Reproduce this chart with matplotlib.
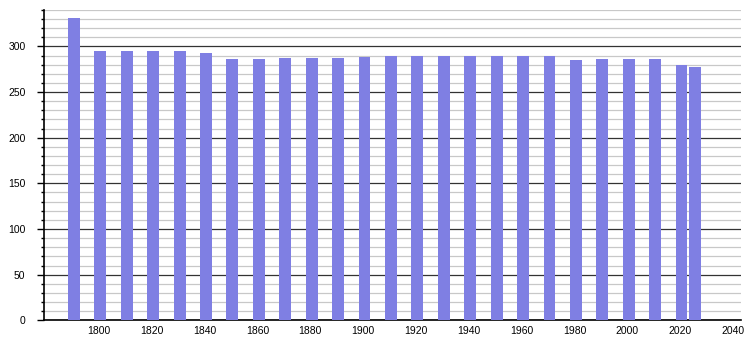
import matplotlib
matplotlib.use('Agg')
import matplotlib.pyplot as plt
from matplotlib.ticker import MultipleLocator

# population by census year
years = [1790, 1800, 1810, 1820, 1830, 1840, 1850, 1860, 1870, 1880, 1890,
         1900, 1910, 1920, 1930, 1940, 1950, 1960, 1970, 1980, 1990, 2000,
         2010, 2020, 2025]
pop = [331, 295, 295, 295, 295, 293, 286, 286, 287, 287, 287,
       288, 289, 289, 289, 289, 289, 289, 289, 285, 286, 286,
       286, 280, 277]
xticks = [1800, 1820, 1840, 1860, 1880, 1900, 1920, 1940, 1960, 1980, 2000, 2020, 2040]

plt.rcParams['font.family'] = ['Liberation Sans', 'DejaVu Sans']

fig = plt.figure(figsize=(7.5, 3.4), dpi=100)
ax = fig.add_axes([0.058, 0.058, 0.93, 0.913])

ax.bar([y + 0.5 for y in years], pop, width=4.5, color='#7f7fe3', zorder=3)

ax.set_xlim(1779, 2043)
ax.set_ylim(0, 340)
ax.yaxis.set_major_locator(MultipleLocator(50))
ax.yaxis.set_minor_locator(MultipleLocator(10))
ax.set_xticks(xticks)
ax.grid(axis='y', which='minor', color='#c8c8c8', lw=0.9, zorder=1)
ax.grid(axis='y', which='major', color='#333333', lw=0.9, zorder=2)

for s in ['top', 'right']:
    ax.spines[s].set_visible(False)
ax.spines['left'].set_color('black')
ax.spines['bottom'].set_color('black')
ax.spines['left'].set_linewidth(1.2)
ax.spines['bottom'].set_linewidth(1.2)

ax.tick_params(axis='y', which='major', length=5, width=1, labelsize=7.5, pad=8)
ax.tick_params(axis='y', which='minor', length=2.5, width=1)
ax.tick_params(axis='x', length=0, labelsize=7.5, pad=4)

fig.savefig('out.png', dpi=100)
